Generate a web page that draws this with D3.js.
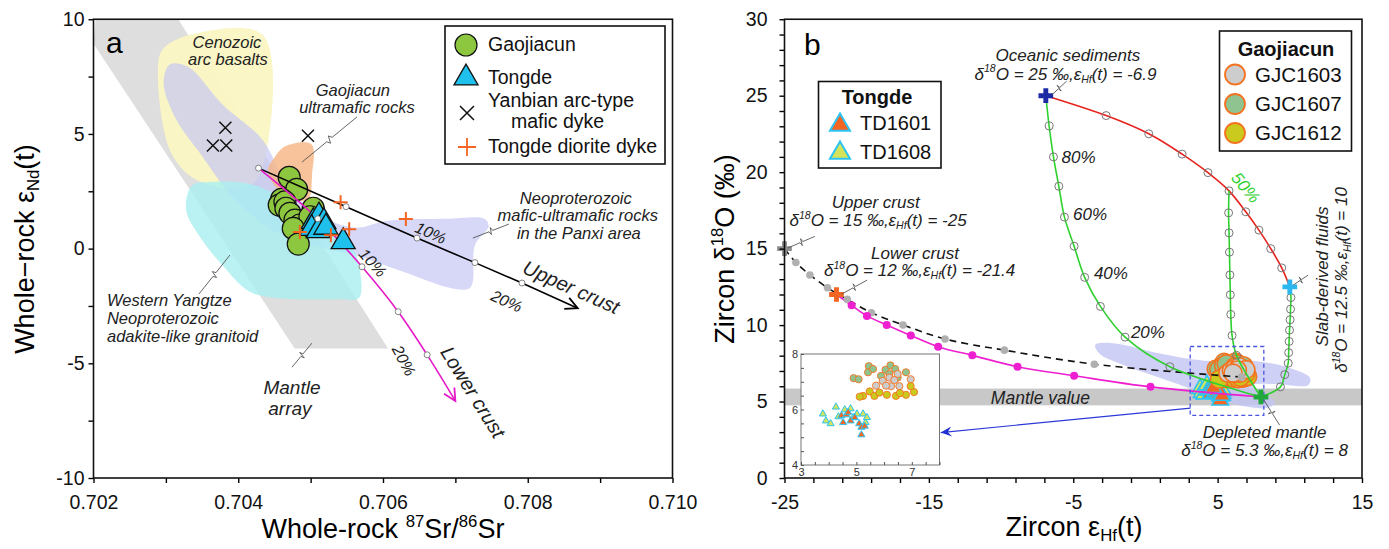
<!DOCTYPE html>
<html>
<head>
<meta charset="utf-8">
<script src="https://cdn.jsdelivr.net/npm/d3@7"></script>
<style>
  body { margin: 0; background: #fff; }
  svg { font-family: "Liberation Sans", Arial, sans-serif; }
</style>
</head>
<body>
<svg id="chart" width="1389" height="549"></svg>
<script>
// ---------------- panel a : whole-rock Sr-Nd ----------------
var gaojiacunA = [[0.704704,3.11],[0.704807,2.58],[0.704599,2.15],[0.704566,1.90],[0.704645,2.04],[0.704659,1.76],
  [0.704714,1.54],[0.704783,1.24],[0.704852,1.03],[0.705036,1.76],[0.704990,1.39],[0.704760,0.88],[0.704829,0.20]];
var tongdeA = [[0.705036,1.17],[0.705115,1.42],[0.705184,1.17],[0.705014,0.88],[0.705105,0.78],[0.705211,0.93],[0.705450,0.30]];
var yanbianA = [[0.703822,5.27],[0.703650,4.50],[0.703834,4.50],[0.704963,4.92]];
var dioriteA = [[0.705414,2.02],[0.706316,1.29],[0.705533,0.84],[0.705280,0.58],[0.704852,0.72]];

// fields
var mantleArrayA = [[0.70203,10],[0.70317,10],[0.70607,-4.35],[0.70478,-4.35],[0.7020,8.93]];
var arcBasaltA = [[0.70296,8.70],[0.70342,9.39],[0.70434,9.31],[0.70437,3.97],[0.70416,2.75],[0.70348,2.90],[0.70308,4.12],[0.70289,7.79]];
var panxiA = [[0.70305,8.02],[0.70330,7.94],[0.70379,6.26],[0.70434,4.73],[0.70465,2.90],[0.70502,1.68],[0.70558,0.92],[0.70607,1.22],
  [0.70687,1.30],[0.70740,1.30],[0.70746,0.99],[0.70727,0.15],[0.70721,-1.68],[0.70700,-1.76],[0.70626,-0.99],[0.70564,-0.31],
  [0.70502,0.15],[0.70441,0.92],[0.70391,2.29],[0.70348,4.12],[0.70314,5.65],[0.70297,7.18]];
var adakiteA = [[0.70336,2.75],[0.70360,2.90],[0.70416,2.82],[0.70465,2.14],[0.70515,0.92],[0.70558,0.00],[0.70567,-0.76],
  [0.70567,-2.14],[0.70539,-2.21],[0.70441,-2.11],[0.70413,-1.83],[0.70379,-0.76],[0.70348,0.46],[0.70328,1.68]];
var ultramaficA = [[0.70450,3.97],[0.70465,4.46],[0.70501,4.55],[0.70502,3.21],[0.70496,2.14],[0.70465,2.29],[0.70441,3.36]];

// mixing lines
var upperMixA = [[0.70428,3.51],[0.70549,1.83],[0.70647,0.46],[0.70727,-0.61],[0.70792,-1.50],[0.70869,-2.60]];
var lowerMixA = [[0.70428,3.51],[0.70510,1.30],[0.70571,-0.79],[0.70621,-2.75],[0.70661,-4.63],[0.70700,-6.64]];

var xTicksA = d3.range(0, 9).map(function(i) { return 0.702 + i * 0.001; });
var xLabelsA = [0.702, 0.704, 0.706, 0.708, 0.710];
var yTicksA = d3.range(-10, 10.1, 2.5);
var yLabelsA = [-10, -5, 0, 5, 10];

// ---------------- panel b : zircon Hf-O ----------------
var endNames = ["oceanic", "upper", "lower", "slab", "dm"];
var endHf = [-6.9, -25, -21.4, 10, 8];
var endO = [25, 15, 12, 12.5, 5.3];

var redMix = [[-6.9,25],[-2.72,23.70],[0.23,22.51],[2.54,21.18],[4.33,19.97],[5.79,18.78],[6.95,17.41],[7.86,16.21],[8.68,15.00],[9.44,13.74],[10,12.5]];
var greenMix1 = [[-6.9,25],[-6.67,23.02],[-6.37,21.00],[-6.00,19.08],[-5.61,17.06],[-4.94,15.16],[-4.21,13.12],[-3.12,11.22],[-1.41,9.21],[1.69,7.28],[8,5.3]];
var greenMix2 = [[10,12.5],[10.08,11.80],[10.05,11.04],[10.02,10.35],[9.98,9.67],[9.95,8.93],[9.92,8.20],[9.89,7.51],[9.65,6.76],[9.35,5.96],[8,5.3]];
var greenMix3 = [[5.79,18.78],[5.76,17.34],[5.79,16.03],[5.82,14.77],[5.85,13.28],[5.88,11.98],[5.91,10.70],[6.00,9.32],[6.31,8.02],[8,5.3]];
var dashedMix = [[-25,15],[-24.21,14.09],[-23.24,13.28],[-22.02,12.44],[-20.65,11.68],[-18.98,10.81],[-16.79,10.01],[-13.88,9.09],[-9.77,8.36],[-3.54,7.44],[6.65,6.60]];
var magentaMix = [[-21.4,12],[-20.35,11.29],[-19.29,10.60],[-17.92,10.01],[-16.25,9.32],[-14.36,8.59],[-11.99,8.02],[-8.86,7.28],[-4.94,6.69],[0.35,5.96],[8,5.3]];

var mantleValueB = [4.75, 5.85];
var lavenderB = [[-3.48,8.70],[-2.26,8.82],[1.08,8.13],[4.12,7.67],[7.46,7.67],[9.89,7.22],[11.41,6.53],[11.26,6.07],[9.29,6.12],
  [7.46,6.07],[8.98,4.93],[8.37,4.58],[5.64,4.93],[3.81,5.61],[1.08,6.53],[-1.66,7.44],[-3.18,8.13]];

var gjc1603 = [[5.71,6.86],[5.95,7.03],[6.19,7.15],[6.55,6.84],[6.25,6.84],[6.49,7.28],[6.96,7.09],[6.37,7.06],[6.07,6.86]];
var gjc1607 = [[4.90,7.13],[5.08,7.09],[5.45,7.56],[5.42,7.34],[6.05,7.43],[6.23,7.59],[6.40,7.46],[5.89,7.21],[5.60,7.46],[6.49,7.15],[6.79,7.34],[6.19,7.28]];
var gjc1612 = [[5.24,6.49],[5.48,6.65],[5.65,6.49],[5.83,6.61],[6.10,6.53],[6.43,6.49],[6.79,6.53],[7.08,6.63],[6.96,6.84],[6.57,6.59],[5.12,6.46]];
var td1601 = [[4.46,5.78],[4.52,5.53],[4.64,5.81],[4.79,5.59],[4.94,5.71],[5.10,5.49],[5.18,5.36],[5.18,5.09],[5.30,5.40],[4.70,5.90]];
var td1608 = [[3.79,5.84],[3.90,5.59],[4.07,5.49],[4.26,6.09],[4.35,5.74],[4.58,5.99],[4.79,6.03],[4.88,5.71],[5.24,5.84],[5.33,5.53],[5.38,5.71],[5.02,5.84]];

var zoomBoxB = [[3.1, 4.1], [8.2, 8.6]];
var zoomArrowB = [[3.12, 4.57], [-14.18, 2.97]];

var xTicksB = d3.range(-25, 15.1, 2);
var xLabelsB = [-25, -15, -5, 5, 15];
var yTicksB = d3.range(0, 30.1, 1);
var yLabelsB = [0, 5, 10, 15, 20, 25, 30];
var xTicksInset = d3.range(3, 8.01, 0.5);
var yTicksInset = d3.range(4, 8.01, 0.5);

// ---------------- styles ----------------
var endColor = { oceanic: "#1d2aa6", upper: "#8e8e8e", lower: "#f26522", slab: "#2bb8f0", dm: "#22a83a" };
var gjcColor = { gjc1603: "#cdcdcd", gjc1607: "#8fc490", gjc1612: "#c9c91e" };
var ORANGE = "#f47320", CYAN = "#2cc4f2";

var svg = d3.select("#chart");
svg.append("rect").attr("width", 1389).attr("height", 549).attr("fill", "#fff");
var defs = svg.append("defs");

function chevron(id, color, w) {
  defs.append("marker").attr("id", id).attr("viewBox", "-14 -8 16 16")
    .attr("refX", 0).attr("refY", 0).attr("markerWidth", 16).attr("markerHeight", 16)
    .attr("markerUnits", "userSpaceOnUse").attr("orient", "auto")
    .append("path").attr("d", "M-12,-6L0,0L-12,6").attr("fill", "none")
    .attr("stroke", color).attr("stroke-width", w);
}
chevron("arrBlack", "#000", 1.8);
chevron("arrMag", "#e619c8", 1.8);
defs.append("marker").attr("id", "arrBlue").attr("viewBox", "-14 -8 16 16")
  .attr("refX", 0).attr("refY", 0).attr("markerWidth", 16).attr("markerHeight", 16)
  .attr("markerUnits", "userSpaceOnUse").attr("orient", "auto")
  .append("path").attr("d", "M-11,-5L0,0L-11,5L-7,0Z").attr("fill", "#1f2fd0");

// rich text with super/subscripts
function richText(g, x, y, parts, size, anchor, rotate) {
  var t = g.append("text").attr("font-size", size).attr("text-anchor", anchor || "middle");
  if (rotate) t.attr("transform", "translate(" + x + "," + y + ") rotate(" + rotate + ")");
  else t.attr("x", x).attr("y", y);
  var shift = 0;
  parts.forEach(function(p) {
    var type = p[1] || "n";
    var s = type === "sup" ? -0.42 * size : type === "sub" ? 0.2 * size : 0;
    var ts = t.append("tspan").text(p[0]).attr("dy", s - shift);
    if (type !== "n") ts.attr("font-size", size * 0.62);
    shift = s;
  });
  return t;
}

function leader(g, p1, p2) {
  var dx = p2[0] - p1[0], dy = p2[1] - p1[1];
  var len = Math.hypot(dx, dy), nx = -dy / len, ny = dx / len;
  var a = [p1[0] + dx * 0.45, p1[1] + dy * 0.45], b = [p1[0] + dx * 0.55, p1[1] + dy * 0.55];
  var m1 = [a[0] + nx * 3.5 + dx * 0.03, a[1] + ny * 3.5 + dy * 0.03];
  var m2 = [b[0] - nx * 3.5 - dx * 0.03, b[1] - ny * 3.5 - dy * 0.03];
  g.append("path").attr("d", "M" + [p1, a, m1, m2, b, p2].map(function(p) { return p.join(","); }).join("L"))
    .attr("fill", "none").attr("stroke", "#555").attr("stroke-width", 0.9);
}

function frame(g, x, y, xTicks, xLabels, yTicks, yLabels, fmtX, pads) {
  var r = x.range(), t = y.range();
  g.append("g").attr("transform", "translate(0," + t[0] + ")")
    .call(d3.axisBottom(x).tickValues(xTicks).tickSize(5).tickSizeOuter(0).tickPadding(pads[0])
      .tickFormat(function(d) { return xLabels.some(function(v) { return Math.abs(v - d) < 1e-9; }) ? fmtX(d) : ""; }))
    .call(function(a) { a.select(".domain").remove(); a.selectAll("text").attr("font-size", 19.5).attr("font-family", null).attr("fill", "#111"); a.selectAll("line").attr("stroke-width", 1.4); });
  g.append("g").attr("transform", "translate(" + r[0] + ",0)")
    .call(d3.axisLeft(y).tickValues(yTicks).tickSize(5).tickSizeOuter(0).tickPadding(pads[1])
      .tickFormat(function(d) { return yLabels.indexOf(d) >= 0 ? d : ""; }))
    .call(function(a) { a.select(".domain").remove(); a.selectAll("text").attr("font-size", 19.5).attr("font-family", null).attr("fill", "#111"); a.selectAll("line").attr("stroke-width", 1.4); });
  g.append("rect").attr("x", r[0]).attr("y", t[1]).attr("width", r[1] - r[0]).attr("height", t[0] - t[1])
    .attr("fill", "none").attr("stroke", "#111").attr("stroke-width", 1.6);
}

// ======================= PANEL A =======================
var xA = d3.scaleLinear().domain([0.702, 0.710]).range([93.5, 672.5]);
var yA = d3.scaleLinear().domain([-10, 10]).range([478, 19.25]);
var gA = svg.append("g");
defs.append("clipPath").attr("id", "clipA").append("rect")
  .attr("x", 93.5).attr("y", 19.25).attr("width", 579).attr("height", 458.75);
var fieldsA = gA.append("g").attr("clip-path", "url(#clipA)");
var smooth = d3.line().x(function(d) { return xA(d[0]); }).y(function(d) { return yA(d[1]); }).curve(d3.curveCatmullRomClosed.alpha(0.5));
var poly = d3.line().x(function(d) { return xA(d[0]); }).y(function(d) { return yA(d[1]); }).curve(d3.curveLinearClosed);

fieldsA.append("path").attr("d", poly(mantleArrayA)).attr("fill", "#dedede");
fieldsA.append("path").attr("d", smooth(arcBasaltA)).attr("fill", "#faf6c2").attr("opacity", 0.95);
fieldsA.append("path").attr("d", smooth(panxiA)).attr("fill", "#c6c7f3").attr("opacity", 0.7);
fieldsA.append("path").attr("d", smooth(adakiteA)).attr("fill", "#a9eff1").attr("opacity", 0.8);
fieldsA.append("path").attr("d", smooth(ultramaficA)).attr("fill", "#f6b482").attr("opacity", 0.8);

// field labels
var labA = gA.append("g").attr("font-style", "italic").attr("fill", "#222");
function labelA(txt, x, y, size, anchor, rot) {
  var t = labA.append("text").text(txt).attr("font-size", size).attr("text-anchor", anchor || "middle").attr("dy", "0.35em");
  if (rot) t.attr("transform", "translate(" + xA(x) + "," + yA(y) + ") rotate(" + rot + ")");
  else t.attr("x", xA(x)).attr("y", yA(y));
}
labelA("Cenozoic", 0.703844, 9.01, 16.5);
labelA("arc basalts", 0.703858, 8.27, 16.5);
labelA("Gaojiacun", 0.705584, 6.91, 16.5);
labelA("ultramafic rocks", 0.705640, 6.17, 16.5);
labelA("Neoproterozoic", 0.708664, 2.20, 16.5);
labelA("mafic-ultramafic rocks", 0.708692, 1.46, 16.5);
labelA("in the Panxi area", 0.708706, 0.68, 16.5);
labelA("Western Yangtze", 0.702186, -2.24, 16.5, "start");
labelA("Neoproterozoic", 0.702186, -3.03, 16.5, "start");
labelA("adakite-like granitoid", 0.702186, -3.81, 16.5, "start");
labelA("Mantle", 0.704742, -6.03, 19);
labelA("array", 0.704714, -6.95, 19);
labelA("10%", 0.706659, 0.69, 16, "middle", 24);
labelA("20%", 0.707707, -2.29, 16, "middle", 24);
labelA("10%", 0.705858, -0.61, 16, "middle", 48);
labelA("20%", 0.706289, -4.88, 16, "middle", 62);
labelA("Upper crust", 0.708601, -1.68, 20, "middle", 24);
labelA("Lower crust", 0.707244, -6.26, 20, "middle", 58);

function pA(d) { return [xA(d[0]), yA(d[1])]; }
leader(gA, pA([0.704880, 3.77]), pA([0.705640, 5.74]));
leader(gA, pA([0.707242, 0.46]), pA([0.707739, 1.07]));
leader(gA, pA([0.703457, -1.98]), pA([0.703885, -0.28]));
leader(gA, pA([0.704742, -5.17]), pA([0.705018, -4.12]));

// samples
gA.selectAll("circle.gjc").data(gaojiacunA).enter().append("circle").attr("class", "gjc")
  .attr("cx", function(d) { return xA(d[0]); }).attr("cy", function(d) { return yA(d[1]); })
  .attr("r", 11).attr("fill", "#8dc63f").attr("stroke", "#111").attr("stroke-width", 1.2);

// mixing lines
var lineA = d3.line().x(function(d) { return xA(d[0]); }).y(function(d) { return yA(d[1]); });
gA.append("path").attr("d", lineA.curve(d3.curveLinear)(upperMixA)).attr("fill", "none")
  .attr("stroke", "#000").attr("stroke-width", 1.6).attr("marker-end", "url(#arrBlack)");
gA.append("path").attr("d", lineA.curve(d3.curveCatmullRom)(lowerMixA)).attr("fill", "none")
  .attr("stroke", "#e619c8").attr("stroke-width", 1.6).attr("marker-end", "url(#arrMag)");

gA.selectAll("path.td").data(tongdeA).enter().append("path").attr("class", "td")
  .attr("d", d3.symbol(d3.symbolTriangle, 250))
  .attr("transform", function(d) { return "translate(" + xA(d[0]) + "," + yA(d[1]) + ")"; })
  .attr("fill", "#1fc0ec").attr("stroke", "#111").attr("stroke-width", 1.3);

var mixTicksA = upperMixA.slice(0, -1).concat(lowerMixA.slice(1, -1));
gA.selectAll("circle.mt").data(mixTicksA).enter().append("circle").attr("class", "mt")
  .attr("cx", function(d) { return xA(d[0]); }).attr("cy", function(d) { return yA(d[1]); })
  .attr("r", 3).attr("fill", "#fff").attr("stroke", "#777").attr("stroke-width", 0.9);

gA.selectAll("path.yb").data(yanbianA).enter().append("path").attr("class", "yb")
  .attr("d", "M-6,-6L6,6M-6,6L6,-6")
  .attr("transform", function(d) { return "translate(" + xA(d[0]) + "," + yA(d[1]) + ")"; })
  .attr("stroke", "#111").attr("stroke-width", 1.5);
gA.selectAll("path.dd").data(dioriteA).enter().append("path").attr("class", "dd")
  .attr("d", "M-7,0L7,0M0,-7L0,7")
  .attr("transform", function(d) { return "translate(" + xA(d[0]) + "," + yA(d[1]) + ")"; })
  .attr("stroke", "#f26522").attr("stroke-width", 2);

frame(gA, xA, yA, xTicksA, xLabelsA, yTicksA, yLabelsA, d3.format(".3f"), [12, 4]);
gA.append("text").text("a").attr("x", 106).attr("y", 53).attr("font-size", 30);

// legend a
var legA = gA.append("g");
legA.append("rect").attr("x", 445).attr("y", 26).attr("width", 220).attr("height", 138)
  .attr("fill", "#fff").attr("stroke", "#111").attr("stroke-width", 1.6);
legA.append("circle").attr("cx", 466).attr("cy", 45).attr("r", 11).attr("fill", "#8dc63f").attr("stroke", "#111").attr("stroke-width", 1.2);
legA.append("path").attr("d", d3.symbol(d3.symbolTriangle, 250)).attr("transform", "translate(466,78)")
  .attr("fill", "#1fc0ec").attr("stroke", "#111").attr("stroke-width", 1.3);
legA.append("path").attr("d", "M-7,-7L7,7M-7,7L7,-7").attr("transform", "translate(467,113)").attr("stroke", "#111").attr("stroke-width", 1.5);
legA.append("path").attr("d", "M-9,0L9,0M0,-9L0,9").attr("transform", "translate(467,147)").attr("stroke", "#f26522").attr("stroke-width", 1.8);
var legTxtA = legA.append("g").attr("font-size", 19.5).attr("fill", "#111");
legTxtA.append("text").attr("x", 488).attr("y", 51).text("Gaojiacun");
legTxtA.append("text").attr("x", 488).attr("y", 84).text("Tongde");
legTxtA.append("text").attr("x", 488).attr("y", 107).text("Yanbian arc-type");
legTxtA.append("text").attr("x", 511).attr("y", 128).text("mafic dyke");
legTxtA.append("text").attr("x", 488).attr("y", 153).text("Tongde diorite dyke");

// axis titles a
richText(gA, 34, 249, [["Whole\u2212rock \u03b5"], ["Nd", "sub"], ["(t)"]], 27, "middle", -90);
richText(gA, 383, 538, [["Whole-rock "], ["87", "sup"], ["Sr/"], ["86", "sup"], ["Sr"]], 27, "middle");

// ======================= PANEL B =======================
var xB = d3.scaleLinear().domain([-25, 15]).range([784.5, 1362]);
var yB = d3.scaleLinear().domain([0, 30]).range([478, 19.25]);
var gB = svg.append("g");
defs.append("clipPath").attr("id", "clipB").append("rect")
  .attr("x", 784.5).attr("y", 19.25).attr("width", 577.5).attr("height", 458.75);
var fieldsB = gB.append("g").attr("clip-path", "url(#clipB)");
fieldsB.append("rect").attr("x", xB(-25)).attr("width", xB(15) - xB(-25))
  .attr("y", yB(mantleValueB[1])).attr("height", yB(mantleValueB[0]) - yB(mantleValueB[1])).attr("fill", "#c8c8c8");
var smoothB = d3.line().x(function(d) { return xB(d[0]); }).y(function(d) { return yB(d[1]); }).curve(d3.curveCatmullRomClosed.alpha(0.5));
fieldsB.append("path").attr("d", smoothB(lavenderB)).attr("fill", "#c3c4f2").attr("opacity", 0.8);
gB.append("text").text("Mantle value").attr("x", xB(-7.27)).attr("y", yB(5.23)).attr("dy", "0.35em")
  .attr("text-anchor", "middle").attr("font-size", 17.5).attr("font-style", "italic").attr("fill", "#222");

// sample cluster (main plot)
function triB(sel, data, fill, size, sx, sy, sw) {
  sel.selectAll(null).data(data).enter().append("path")
    .attr("d", d3.symbol(d3.symbolTriangle, size))
    .attr("transform", function(d) { return "translate(" + sx(d[0]) + "," + sy(d[1]) + ")"; })
    .attr("fill", fill).attr("stroke", CYAN).attr("stroke-width", sw);
}
function circB(sel, data, fill, r, sx, sy, sw) {
  sel.selectAll(null).data(data).enter().append("circle")
    .attr("cx", function(d) { return sx(d[0]); }).attr("cy", function(d) { return sy(d[1]); })
    .attr("r", r).attr("fill", fill).attr("stroke", ORANGE).attr("stroke-width", sw);
}
var cluster = gB.append("g");
triB(cluster, td1608, "#d5e35a", 120, xB, yB, 1.6);
triB(cluster, td1601, "#f26522", 120, xB, yB, 1.6);
circB(cluster, gjc1607, gjcColor.gjc1607, 9, xB, yB, 1.6);
circB(cluster, gjc1612, gjcColor.gjc1612, 9, xB, yB, 1.6);
circB(cluster, gjc1603, gjcColor.gjc1603, 9, xB, yB, 1.6);

// mixing curves
var curveB = d3.line().x(function(d) { return xB(d[0]); }).y(function(d) { return yB(d[1]); }).curve(d3.curveCatmullRom.alpha(0.5));
gB.append("path").attr("d", curveB(dashedMix)).attr("fill", "none").attr("stroke", "#111").attr("stroke-width", 1.6).attr("stroke-dasharray", "7,5");
gB.append("path").attr("d", curveB(magentaMix)).attr("fill", "none").attr("stroke", "#ee1fd0").attr("stroke-width", 1.6);
gB.append("path").attr("d", curveB(redMix)).attr("fill", "none").attr("stroke", "#e8231e").attr("stroke-width", 1.6);
[greenMix1, greenMix2, greenMix3].forEach(function(m) {
  gB.append("path").attr("d", curveB(m)).attr("fill", "none").attr("stroke", "#2ed12e").attr("stroke-width", 1.6);
});
gB.selectAll("circle.gd").data(dashedMix.slice(1)).enter().append("circle").attr("class", "gd")
  .attr("cx", function(d) { return xB(d[0]); }).attr("cy", function(d) { return yB(d[1]); })
  .attr("r", 3.8).attr("fill", "#b0b0b0");
gB.selectAll("circle.md").data(magentaMix.slice(1, -1)).enter().append("circle").attr("class", "md")
  .attr("cx", function(d) { return xB(d[0]); }).attr("cy", function(d) { return yB(d[1]); })
  .attr("r", 4).attr("fill", "#ee1fd0");
var openTicks = redMix.slice(1, -1).concat(greenMix1.slice(1, -1), greenMix2.slice(1, -1), greenMix3.slice(1, -1));
gB.selectAll("circle.ot").data(openTicks).enter().append("circle").attr("class", "ot")
  .attr("cx", function(d) { return xB(d[0]); }).attr("cy", function(d) { return yB(d[1]); })
  .attr("r", 4).attr("fill", "none").attr("stroke", "#777").attr("stroke-width", 1);

// zoom box + arrow
gB.append("rect").attr("x", xB(zoomBoxB[0][0])).attr("y", yB(zoomBoxB[1][1]))
  .attr("width", xB(zoomBoxB[1][0]) - xB(zoomBoxB[0][0])).attr("height", yB(zoomBoxB[0][1]) - yB(zoomBoxB[1][1]))
  .attr("fill", "none").attr("stroke", "#4a55e0").attr("stroke-width", 1.3).attr("stroke-dasharray", "4,3");
gB.append("line").attr("x1", xB(zoomArrowB[0][0])).attr("y1", yB(zoomArrowB[0][1]))
  .attr("x2", xB(zoomArrowB[1][0])).attr("y2", yB(zoomArrowB[1][1]))
  .attr("stroke", "#2b3ad6").attr("stroke-width", 1.2).attr("marker-end", "url(#arrBlue)");

// end-member crosses
endNames.forEach(function(n, i) {
  gB.append("path").attr("d", d3.symbol(d3.symbolCross, 120))
    .attr("transform", "translate(" + xB(endHf[i]) + "," + yB(endO[i]) + ")")
    .attr("fill", endColor[n]);
});

// annotations b
var annB = gB.append("g").attr("font-style", "italic").attr("fill", "#222");
function pB(x, y) { return [xB(x), yB(y)]; }
function plainB(txt, x, y, size, rot, color) {
  var t = annB.append("text").text(txt).attr("font-size", size).attr("text-anchor", "middle").attr("dy", "0.35em");
  if (rot) t.attr("transform", "translate(" + xB(x) + "," + yB(y) + ") rotate(" + rot + ")");
  else t.attr("x", xB(x)).attr("y", yB(y));
  if (color) t.attr("fill", color);
}
function isoB(o, hf, x, y, rot) {
  var p = pB(x, y);
  var t = richText(annB, p[0], p[1], [["\u03b4"], ["18", "sup"], ["O = " + o + " \u2030,\u03b5"], ["Hf", "sub"], ["(t) = " + hf]], 17, "middle", rot);
  t.select("tspan").attr("dy", 6);
  return t;
}
plainB("Oceanic sediments", -5.37, 27.66, 17);
isoB("25", "-6.9", -5.54, 26.45);
plainB("Upper crust", -18.68, 18.05, 17);
isoB("15", "-25", -18.52, 16.87);
plainB("Lower crust", -15.96, 14.73, 17);
isoB("12", "-21.4", -15.64, 13.60);
plainB("Depleted mantle", 8.25, 3.01, 17);
isoB("5.3", "8", 8.25, 1.84);
plainB("Slab-derived fluids", 12.20, 13.18, 17, -90);
isoB("12.5", "10", 13.57, 12.95, -90);
plainB("80%", -4.63, 20.99, 17);
plainB("60%", -3.84, 17.26, 17);
plainB("40%", -2.39, 13.40, 17);
plainB("20%", 0.17, 9.55, 17);
plainB("50%", 6.95, 19.0, 17, 50, "#2ed12e");

leader(gB, pB(-6.50, 25.04), pB(-5.46, 25.95));
leader(gB, pB(-24.75, 15.05), pB(-22.9, 15.8));
leader(gB, pB(-21.05, 12.02), pB(-19.28, 12.94));
leader(gB, pB(8.2, 5.1), pB(9.3, 3.45));
leader(gB, pB(10.25, 12.62), pB(11.27, 13.27));

// inset
var xI = d3.scaleLinear().domain([3, 8]).range([801, 939.5]);
var yI = d3.scaleLinear().domain([4, 8]).range([465, 354]);
var gI = gB.append("g");
gI.append("rect").attr("x", 801).attr("y", 354).attr("width", 138.5).attr("height", 111)
  .attr("fill", "#fff").attr("stroke", "#777").attr("stroke-width", 1);
gI.append("g").attr("transform", "translate(0,465)")
  .call(d3.axisBottom(xI).tickValues(xTicksInset).tickSize(-3).tickSizeOuter(0).tickPadding(3)
    .tickFormat(function(d) { return [3, 5, 7].indexOf(d) >= 0 ? d : ""; }))
  .call(function(a) { a.select(".domain").remove(); a.selectAll("text").attr("font-size", 11).attr("font-family", null).attr("fill", "#333"); a.selectAll("line").attr("stroke", "#555"); });
gI.append("g").attr("transform", "translate(801,0)")
  .call(d3.axisLeft(yI).tickValues(yTicksInset).tickSize(-3).tickSizeOuter(0).tickPadding(3)
    .tickFormat(function(d) { return [4, 6, 8].indexOf(d) >= 0 ? d : ""; }))
  .call(function(a) { a.select(".domain").remove(); a.selectAll("text").attr("font-size", 11).attr("font-family", null).attr("fill", "#333"); a.selectAll("line").attr("stroke", "#555"); });
triB(gI, td1608, "#d5e35a", 22, xI, yI, 1);
triB(gI, td1601, "#f26522", 22, xI, yI, 1);
circB(gI, gjc1607, gjcColor.gjc1607, 3.6, xI, yI, 0.9);
circB(gI, gjc1603, gjcColor.gjc1603, 3.6, xI, yI, 0.9);
circB(gI, gjc1612, gjcColor.gjc1612, 3.6, xI, yI, 0.9);

frame(gB, xB, yB, xTicksB, xLabelsB, yTicksB, yLabelsB, function(d) { return d; }, [12, 12]);
gB.append("text").text("b").attr("x", 804).attr("y", 55).attr("font-size", 30);

// legend Tongde
var legT = gB.append("g");
legT.append("rect").attr("x", 818.5).attr("y", 81.5).attr("width", 122.5).attr("height", 86.5)
  .attr("fill", "#fff").attr("stroke", "#111").attr("stroke-width", 1.6);
legT.append("text").text("Tongde").attr("x", 877).attr("y", 104).attr("text-anchor", "middle")
  .attr("font-size", 20).attr("font-weight", "bold").attr("fill", "#111");
legT.append("path").attr("d", d3.symbol(d3.symbolTriangle, 175)).attr("transform", "translate(840,125)")
  .attr("fill", "#f26522").attr("stroke", CYAN).attr("stroke-width", 2);
legT.append("path").attr("d", d3.symbol(d3.symbolTriangle, 175)).attr("transform", "translate(840,153)")
  .attr("fill", "#d5e35a").attr("stroke", CYAN).attr("stroke-width", 2);
legT.append("text").text("TD1601").attr("x", 860).attr("y", 130).attr("font-size", 20).attr("fill", "#111");
legT.append("text").text("TD1608").attr("x", 860).attr("y", 159).attr("font-size", 20).attr("fill", "#111");

// legend Gaojiacun
var legG = gB.append("g");
legG.append("rect").attr("x", 1219.5).attr("y", 31).attr("width", 132).attr("height", 120)
  .attr("fill", "#fff").attr("stroke", "#111").attr("stroke-width", 1.6);
legG.append("text").text("Gaojiacun").attr("x", 1286).attr("y", 56).attr("text-anchor", "middle")
  .attr("font-size", 20).attr("font-weight", "bold").attr("fill", "#111");
[["GJC1603", gjcColor.gjc1603, 74.5], ["GJC1607", gjcColor.gjc1607, 104], ["GJC1612", gjcColor.gjc1612, 133]].forEach(function(e) {
  legG.append("circle").attr("cx", 1235).attr("cy", e[2]).attr("r", 10).attr("fill", e[1]).attr("stroke", ORANGE).attr("stroke-width", 1.8);
  legG.append("text").text(e[0]).attr("x", 1255).attr("y", e[2] + 7).attr("font-size", 20.5).attr("fill", "#111");
});

// axis titles b
richText(gB, 734, 249, [["Zircon \u03b4"], ["18", "sup"], ["O (\u2030)"]], 27, "middle", -90);
richText(gB, 1074, 536, [["Zircon \u03b5"], ["Hf", "sub"], ["(t)"]], 27, "middle");
</script>
</body>
</html>
